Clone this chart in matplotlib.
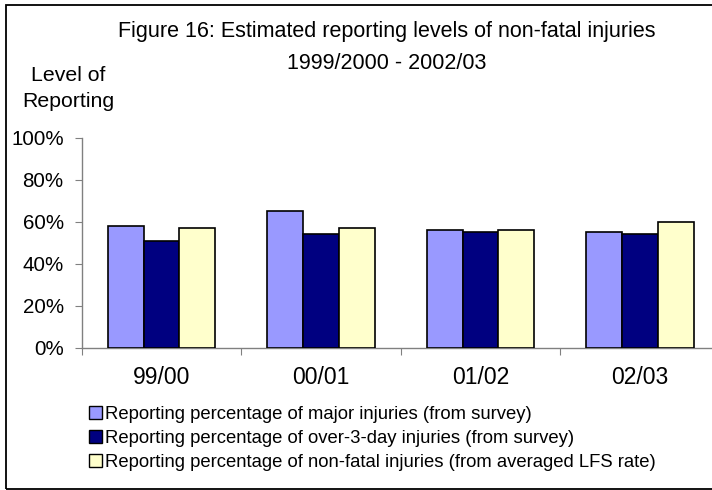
import matplotlib
matplotlib.use("Agg")
import matplotlib.pyplot as plt
import matplotlib.patches as mpatches
import numpy as np

plt.rcParams['font.family'] = ['Liberation Sans', 'DejaVu Sans']

categories = ["99/00", "00/01", "01/02", "02/03"]
major = [58, 65, 56, 55]
over3day = [51, 54, 55, 54]
nonfatal = [57, 57, 56, 60]
series_labels = [
    "Reporting percentage of major injuries (from survey)",
    "Reporting percentage of over-3-day injuries (from survey)",
    "Reporting percentage of non-fatal injuries (from averaged LFS rate)",
]
colors = ["#9999FF", "#000080", "#FFFFCC"]
yticks = [0, 20, 40, 60, 80, 100]

W, H = 712, 490
fig = plt.figure(figsize=(W / 100, H / 100), dpi=100)

# figure border
fig.patches.append(mpatches.Rectangle((6 / W, 1.5 / H), 2.0, (488.5 - 5.5) / H,
                                      transform=fig.transFigure, fill=False,
                                      edgecolor="black", linewidth=1.3))

ax_left, ax_right = 81.7, 81.7 + 4 * 159.5
ax_bottom, ax_top = 347.7, 137.7
ax = fig.add_axes([ax_left / W, (H - ax_bottom) / H,
                   (ax_right - ax_left) / W, (ax_bottom - ax_top) / H])

x = np.arange(len(categories)) + 0.5
bw = 0.225
handles = []
for i, (vals, c, lab) in enumerate(zip([major, over3day, nonfatal], colors, series_labels)):
    b = ax.bar(x + (i - 1) * bw, vals, width=bw, color=c, edgecolor="black",
               linewidth=1.2, label=lab, zorder=3)
    handles.append(b)

ax.set_xlim(0, len(categories))
ax.set_ylim(0, 100)
ax.set_yticks(yticks)
ax.set_yticklabels([f"{v}%" for v in yticks], fontsize=14.8)
ax.set_xticks(np.arange(len(categories) + 1))
ax.set_xticklabels([])
ax.set_xticks(x, minor=True)
ax.set_xticklabels(categories, minor=True, fontsize=16.5)
ax.tick_params(axis="x", which="minor", length=0, pad=13)
ax.tick_params(axis="x", which="major", direction="out", length=5, color="#808080")
ax.tick_params(axis="y", direction="out", length=5, color="#808080", pad=8)
for s in ["top", "right"]:
    ax.spines[s].set_visible(False)
for s in ["left", "bottom"]:
    ax.spines[s].set_color("#808080")
    ax.spines[s].set_linewidth(1.0)

fig.text(386.5 / W, 1 - 36.7 / H, "Figure 16: Estimated reporting levels of non-fatal injuries",
         ha="center", va="baseline", fontsize=15.5)
fig.text(386.5 / W, 1 - 69 / H, "1999/2000 - 2002/03", ha="center", va="baseline", fontsize=15.5)
fig.text(68 / W, 1 - 81 / H, "Level of", ha="center", va="baseline", fontsize=15.3)
fig.text(68 / W, 1 - 106.7 / H, "Reporting", ha="center", va="baseline", fontsize=15.3)

leg = fig.legend(handles=handles, labels=series_labels, loc="upper left",
                 bbox_to_anchor=(89 / W, 1 - 406 / H), frameon=False,
                 fontsize=13.3, handlelength=0.7, handleheight=0.7,
                 handletextpad=0.15, labelspacing=0.38, borderaxespad=0, borderpad=0)
for p in leg.get_patches():
    p.set_linewidth(1.0)

fig.savefig("out.png", dpi=100)
